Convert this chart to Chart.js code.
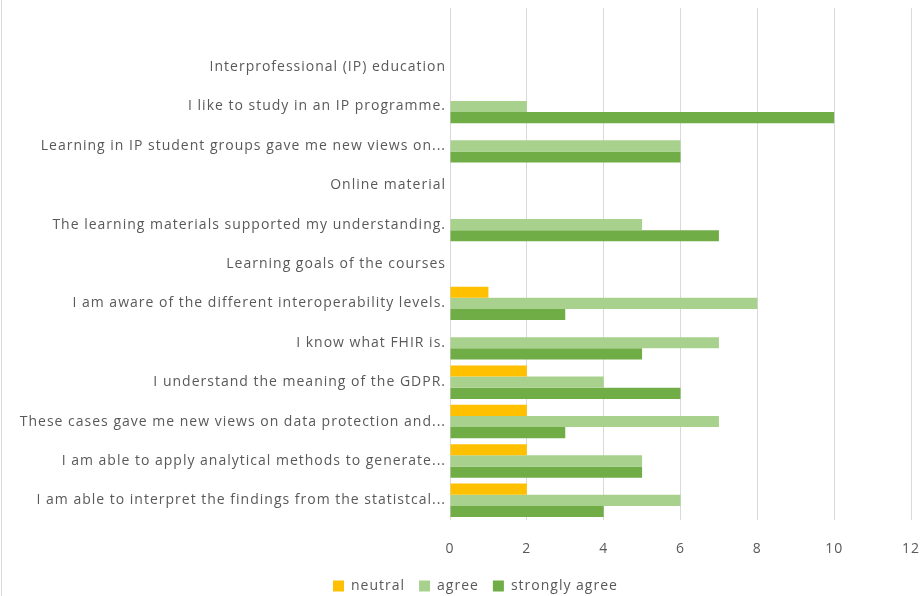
<!DOCTYPE html>
<html>
<head>
<meta charset="utf-8">
<script src="https://cdn.jsdelivr.net/npm/chart.js@4"></script>
<style>
html,body{margin:0;padding:0;background:#fff;}
#wrap{position:relative;width:922px;height:596px;}
canvas{display:block;}
</style>
</head>
<body>
<div id="wrap"><canvas id="c" width="922" height="596"></canvas></div>
<script>
const categories = [
  "",
  "Interprofessional (IP) education",
  "I like to study in an IP programme.",
  "Learning in IP student groups gave me new views on...",
  "Online material",
  "The learning materials supported my understanding.",
  "Learning goals of the courses",
  "I am aware of the different interoperability levels.",
  "I know what FHIR is.",
  "I understand the meaning of the GDPR.",
  "These cases gave me new views on data protection and...",
  "I am able to apply analytical methods to generate...",
  "I am able to interpret the findings from the statistcal..."
];
const neutral        = [null, null, null, null, null, null, null, 1, null, 2, 2, 2, 2];
const agree          = [null, null, 2, 6, null, 5, null, 8, 7, 4, 7, 5, 6];
const stronglyAgree  = [null, null, 10, 6, null, 7, null, 3, 5, 6, 3, 5, 4];
const xTicks = [0, 2, 4, 6, 8, 10, 12];

const FONT = "'Open Sans', Lato, sans-serif";
const TXT = "#595959";
const SPACING = '1px';

const helper = {
  id: 'helper',
  beforeLayout(chart) {
    chart.ctx.letterSpacing = SPACING;
    const lg = chart.legend;
    if (lg && !lg._patched) {
      const orig = lg.fit.bind(lg);
      lg.fit = function () { orig(); this.height = 31; };
      lg._patched = true;
    }
  },
  afterLayout(chart) {
    const lg = chart.legend;
    if (lg) {
      const w = lg.right - lg.left;
      lg.left = 333 - 14;
      lg.right = lg.left + w;
    }
  },
  beforeDraw(chart) {
    const ctx = chart.ctx;
    ctx.save();
    ctx.fillStyle = '#fff';
    ctx.fillRect(0, 0, chart.width, chart.height);
    ctx.strokeStyle = '#d9d9d9';
    ctx.lineWidth = 1;
    ctx.beginPath();
    ctx.moveTo(1.5, 0);
    ctx.lineTo(1.5, chart.height);
    ctx.stroke();
    ctx.restore();
    ctx.letterSpacing = SPACING;
  }
};

new Chart(document.getElementById('c'), {
  type: 'bar',
  data: {
    labels: categories,
    datasets: [
      { label: 'neutral', data: neutral, backgroundColor: '#FFC000' },
      { label: 'agree', data: agree, backgroundColor: '#A9D18E' },
      { label: 'strongly agree', data: stronglyAgree, backgroundColor: '#70AD47' }
    ]
  },
  options: {
    indexAxis: 'y',
    responsive: false,
    animation: false,
    devicePixelRatio: 1,
    layout: { padding: { top: 8, right: 11, left: 0, bottom: 0 } },
    datasets: { bar: { categoryPercentage: 0.85, barPercentage: 1.0, borderWidth: 0 } },
    scales: {
      x: {
        min: 0, max: 12,
        afterBuildTicks(scale) { scale.ticks = xTicks.map(v => ({ value: v })); },
        afterFit(scale) { scale.height = 45; scale.paddingLeft = 0; scale.paddingRight = 0; },
        grid: { color: '#d9d9d9', lineWidth: 1, drawTicks: false },
        border: { display: false },
        ticks: { color: TXT, font: { family: FONT, size: 14 }, padding: 21 }
      },
      y: {
        afterFit(scale) { scale.width = 450; scale.paddingTop = 0; scale.paddingBottom = 0; },
        grid: { display: false, drawTicks: false },
        border: { display: false },
        ticks: { color: TXT, font: { family: FONT, size: 14 }, padding: 4, autoSkip: false }
      }
    },
    plugins: {
      legend: {
        position: 'bottom',
        align: 'start',
        labels: {
          color: TXT,
          font: { family: FONT, size: 14 },
          boxWidth: 11, boxHeight: 11,
          padding: 14
        }
      },
      tooltip: { enabled: false }
    }
  },
  plugins: [helper]
});
</script>
</body>
</html>
